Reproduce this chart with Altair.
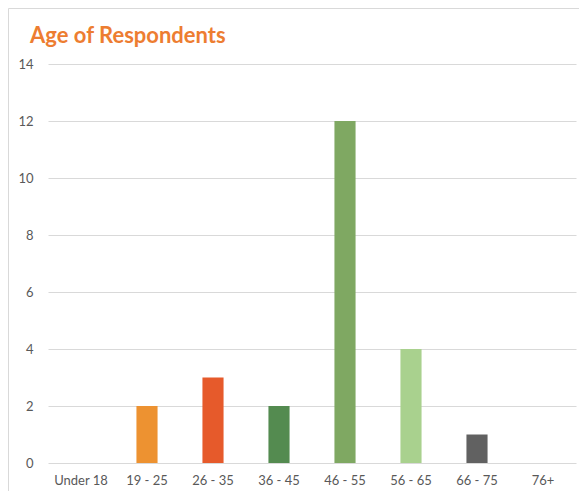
import altair as alt
import pandas as pd

categories = ["Under 18", "19 - 25", "26 - 35", "36 - 45", "46 - 55", "56 - 65", "66 - 75", "76+"]
counts = [0, 2, 3, 2, 12, 4, 1, 0]
colors = ["#ED9231", "#ED9231", "#E65A2B", "#548B50", "#7FA862", "#A9D18E", "#616161", "#616161"]
title_text = ["Age of Respondents"]

df = pd.DataFrame({"age": categories, "count": counts, "color": colors})
tdf = pd.DataFrame({"t": title_text})

FONT = "Lato"

bars = alt.Chart(df).mark_bar().encode(
    x=alt.X("age:N", sort=categories, title=None,
            scale=alt.Scale(paddingInner=0.68, paddingOuter=0.34),
            axis=alt.Axis(labelAngle=0, ticks=False, domain=False, labelPadding=11,
                          labelFont=FONT, labelFontSize=13, labelColor="#595959")),
    y=alt.Y("count:Q", title=None,
            scale=alt.Scale(domain=[0, 14]),
            axis=alt.Axis(values=list(range(0, 15, 2)), ticks=False, domain=False,
                          labelPadding=15, labelFont=FONT, labelFontSize=13,
                          labelColor="#595959", gridColor="#D9D9D9", gridWidth=1)),
    color=alt.Color("color:N", scale=None, legend=None),
)

top_border = alt.Chart(tdf).mark_rule(stroke="#D9D9D9", strokeWidth=1, clip=False).encode(
    x=alt.value(-39.5), x2=alt.value(600), y=alt.value(-55.5)
)
left_border = alt.Chart(tdf).mark_rule(stroke="#D9D9D9", strokeWidth=1, clip=False).encode(
    x=alt.value(-39.5), y=alt.value(-55.5), y2=alt.value(600)
)

title = alt.Chart(tdf).mark_text(align="left", baseline="alphabetic", font=FONT,
                                 fontSize=22, fontWeight="bold", color="#ED7D31").encode(
    text="t:N", x=alt.value(-18), y=alt.value(-21)
)

chart = alt.layer(top_border, left_border, bars, title).properties(
    width=528, height=399,
    autosize=alt.AutoSizeParams(type="none"),
    padding={"left": 40, "top": 56, "right": 3, "bottom": 28},
).configure_view(stroke=None)

chart.save("out.html", embed_options={"renderer": "svg", "actions": False})
